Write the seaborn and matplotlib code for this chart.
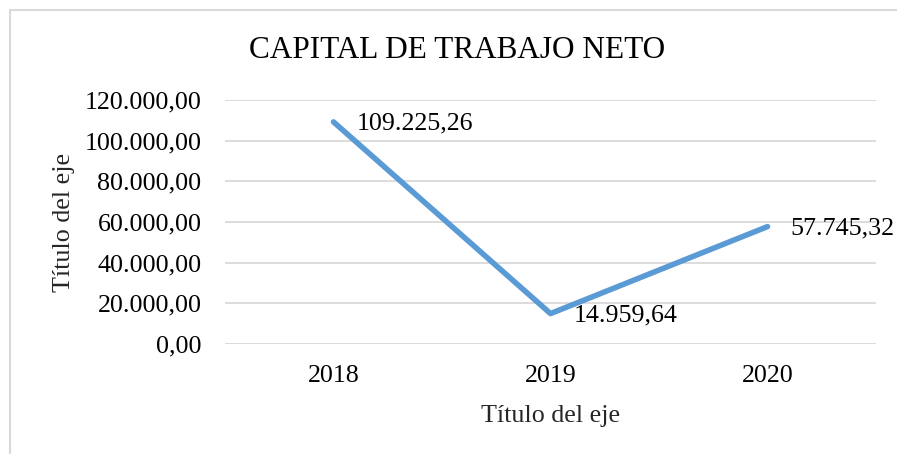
import matplotlib.pyplot as plt
import seaborn as sns
import pandas as pd
from matplotlib.patches import Rectangle
from matplotlib.ticker import FuncFormatter

years = ["2018", "2019", "2020"]
values = [109225.26, 14959.64, 57745.32]
title = "CAPITAL DE TRABAJO NETO"
axis_label = "Título del eje"

df = pd.DataFrame({"anio": years, "valor": values})

sns.set_theme(style="white")
plt.rcParams["font.family"] = ["Liberation Serif", "DejaVu Serif"]


def es_format(v, pos=None):
    s = f"{v:,.2f}"
    return s.replace(",", "X").replace(".", ",").replace("X", ".")


W, H = 897, 454
fig = plt.figure(figsize=(W / 100, H / 100), dpi=100)
ax = fig.add_axes([225 / W, (H - 344) / H, (876 - 225) / W, (344 - 100) / H])

# chart border (Excel-like frame)
fig.patches.append(Rectangle((10 / W, -0.1), 1.2, (H - 10) / H + 0.1,
                             transform=fig.transFigure, fill=False,
                             edgecolor="#D9D9D9", linewidth=1.5))

sns.lineplot(data=df, x="anio", y="valor", ax=ax, color="#5B9BD5",
             linewidth=4, sort=False, solid_capstyle="round")

ax.set_xlim(-0.5, 2.5)
ax.set_ylim(0, 120000)
ax.set_yticks(range(0, 120001, 20000))
ax.yaxis.set_major_formatter(FuncFormatter(es_format))
ax.grid(axis="y", color="#D9D9D9", linewidth=1.3)
ax.grid(axis="x", visible=False)
ax.set_axisbelow(True)
for s in ax.spines.values():
    s.set_visible(False)
ax.tick_params(axis="both", length=0, labelsize=18.7, colors="black")
ax.tick_params(axis="y", pad=17)
ax.tick_params(axis="x", pad=15)

ax.set_xlabel(axis_label, fontsize=18.7, labelpad=13)
ax.set_ylabel(axis_label, fontsize=18.7, labelpad=7)

for i, v in enumerate(values):
    ax.annotate(es_format(v), (i, v), xytext=(23, -2), textcoords="offset pixels",
                ha="left", va="center", fontsize=18.7, color="black")

fig.text(457 / W, (H - 51) / H, title, ha="center", va="center",
         fontsize=22.5, color="black")

fig.savefig("out.png", dpi=100, facecolor="white")
